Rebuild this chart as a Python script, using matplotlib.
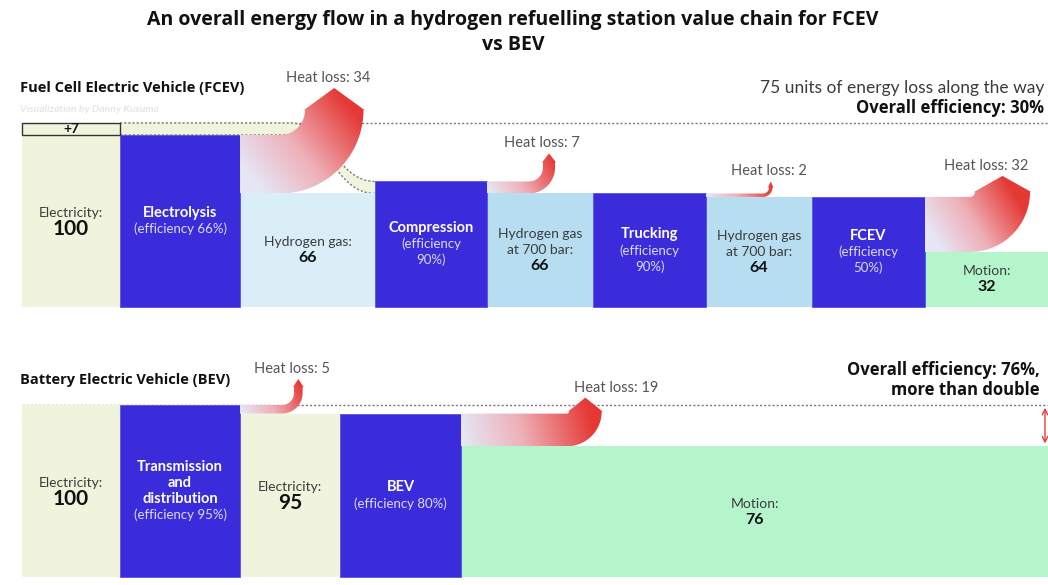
import numpy as np
import matplotlib.pyplot as plt
from matplotlib.path import Path
from matplotlib.patches import PathPatch, Rectangle
from matplotlib.colors import LinearSegmentedColormap

plt.rcParams["font.family"] = ["Lato", "DejaVu Sans"]
HEAD_FONT = ["Open Sans", "DejaVu Sans"]

# energy flow along the FCEV chain (units of energy, 100 = electricity in)
fcev_carriers = ["Electricity", "Hydrogen gas", "Hydrogen gas\nat 700 bar",
                 "Hydrogen gas\nat 700 bar", "Motion"]
fcev_energy = [100, 66, 66, 64, 32]
fcev_processes = ["Electrolysis", "Compression", "Trucking", "FCEV"]
fcev_efficiency = [66, 90, 90, 50]
fcev_input = [100, 73, 66, 64]
fcev_added = 7
fcev_heat_loss = [34, 7, 2, 32]
fcev_total_loss = 75
fcev_overall = 30

# energy flow along the BEV chain
bev_carriers = ["Electricity", "Electricity", "Motion"]
bev_energy = [100, 95, 76]
bev_processes = ["Transmission\nand\ndistribution", "BEV"]
bev_efficiency = [95, 80]
bev_input = [100, 95]
bev_heat_loss = [5, 19]
bev_overall = 76

# layout (pixels)
W, H = 1048, 585
K = 1.72  # pixels per energy unit
fcev_edges = [22, 120, 240, 375, 487, 593, 706, 812, 925, 1048]
bev_edges = [22, 120, 240, 340, 461, 1048]
# arrow shape per loss: horizontal run, inner radius, shaft length, head, label shift
fcev_arrows = [(40, 25, 0, 22, -6), (42, 14, 5, 9, -7), (57, 6, 0, 6, -2), (45, 5, 0, 16, -16)]
bev_arrows = [(42, 12, 6, 8, -6), (106, 2, 0, 14, 31)]

CARRIER_COLORS = {
    "Electricity": "#f1f4dd",
    "Hydrogen gas": "#d9eef7",
    "Hydrogen gas\nat 700 bar": "#b6def0",
    "Motion": "#b4f5cb",
}
PROCESS_COLOR = "#3a2cdb"
TEXT_GREY = "#3c3c3c"

heat_cmap = LinearSegmentedColormap.from_list(
    "heat", [(0, "#e6e6f5"), (0.45, "#eeb0b8"), (1, "#e53935")])

fig = plt.figure(figsize=(W / 100, H / 100), dpi=100)


def make_row_axes(base_px):
    ax = fig.add_axes([0, 0, 1, 1])
    ax.set_xlim(0, W)
    ax.set_ylim(-(H - base_px) / K, base_px / K)
    ax.axis("off")
    ax.patch.set_visible(False)
    return ax


def heat_arrow(ax, x0, v_in, loss, run, r_in, shaft, head):
    w = loss * K
    top = v_in * K
    cx, cy = x0 + run, top + r_in
    ro = r_in + w
    a = np.linspace(-np.pi / 2, 0, 40)
    inner = np.column_stack([cx + r_in * np.cos(a), cy + r_in * np.sin(a)])
    outer = np.column_stack([cx + ro * np.cos(a), cy + ro * np.sin(a)])[::-1]
    xl, xr = cx + r_in, cx + ro
    ys = cy + shaft
    pts = np.vstack([
        [[x0, top]], inner,
        [[xl, ys], [xl - 1, ys], [(xl + xr) / 2, ys + head], [xr + 1, ys], [xr, ys]],
        outer, [[x0, top - w]], [[x0, top]],
    ])
    verts = np.column_stack([pts[:, 0], pts[:, 1] / K])
    patch = PathPatch(Path(verts, closed=True), facecolor="none",
                      edgecolor="none", zorder=4)
    ax.add_patch(patch)

    # linear gradient from the block towards the arrow tip
    sx, sy = x0, top - w / 2
    ex, ey = (xl + xr) / 2, ys + head
    dx, dy = ex - sx, ey - sy
    xmin, xmax = pts[:, 0].min(), pts[:, 0].max()
    ymin, ymax = pts[:, 1].min(), pts[:, 1].max()
    gx, gy = np.meshgrid(np.linspace(xmin, xmax, 200), np.linspace(ymin, ymax, 200))
    t = np.clip(((gx - sx) * dx + (gy - sy) * dy) / (dx * dx + dy * dy), 0, 1)
    im = ax.imshow(t, extent=(xmin, xmax, ymin / K, ymax / K), origin="lower",
                   cmap=heat_cmap, vmin=0, vmax=1, aspect="auto", zorder=4)
    im.set_clip_path(patch)
    return (xl + xr) / 2, (ys + head) / K


def stacked_text(ax, x, v_mid, lines):
    # lines: list of (text, size, weight, color); centred on v_mid
    step = 16
    n = len(lines)
    for i, (s, size, weight, color) in enumerate(lines):
        off = ((n - 1) / 2 - i) * step
        ax.text(x, v_mid + off / K, s, ha="center", va="center",
                fontsize=size, fontweight=weight, color=color, zorder=6)


def draw_chain(ax, edges, carriers, energy, processes, efficiency, inputs,
               losses, arrows, dotted_level, dotted_from):
    ax.axhline(dotted_level, xmin=dotted_from / W, xmax=1, color="#777777",
               lw=1, ls=(0, (1.5, 1.5)), zorder=1)
    for i, name in enumerate(carriers):
        left, right = edges[2 * i], edges[2 * i + 1]
        val = energy[i]
        ax.bar(left, val, width=right - left, align="edge",
               color=CARRIER_COLORS[name], zorder=2)
        big = name == "Electricity"
        parts = name.split("\n")
        lines = [(s + (":" if j == len(parts) - 1 else ""), 10, "normal", TEXT_GREY)
                 for j, s in enumerate(parts)]
        lines.append((str(val), 15 if big else 11.5, "bold", "#111111"))
        stacked_text(ax, (left + right) / 2, val / 2, lines)
    for i, name in enumerate(processes):
        left, right = edges[2 * i + 1], edges[2 * i + 2]
        val = inputs[i]
        ax.bar(left, val, width=right - left, align="edge", color=PROCESS_COLOR,
               edgecolor="#5b50e6", lw=0.6, zorder=3)
        lines = [(s, 10.5, "bold", "white") for s in name.split("\n")]
        if right - left < 118:
            lines += [("(efficiency", 9.5, "normal", "#dedbfb"),
                      (f"{efficiency[i]}%)", 9.5, "normal", "#dedbfb")]
        else:
            lines.append((f"(efficiency {efficiency[i]}%)", 9.5, "normal", "#dedbfb"))
        stacked_text(ax, (left + right) / 2, val / 2, lines)
        run, r_in, shaft, head, label_dx = arrows[i]
        tip_x, tip_v = heat_arrow(ax, right, val, losses[i], run, r_in, shaft, head)
        ax.text(tip_x + label_dx, tip_v + 10 / K, f"Heat loss: {losses[i]}",
                ha="center", va="center", fontsize=10.5, color="#555555", zorder=6)


# ---- FCEV row ----
ax_f = make_row_axes(307)
draw_chain(ax_f, fcev_edges, fcev_carriers, fcev_energy, fcev_processes,
           fcev_efficiency, fcev_input, fcev_heat_loss, fcev_arrows,
           fcev_energy[0] + fcev_added, fcev_edges[1])

# extra electricity fed into compression
top_in, bot_in = fcev_energy[0] + fcev_added, fcev_energy[0]
top_out, bot_out = fcev_input[1], fcev_energy[1]
x_a, x_c = fcev_edges[1], fcev_edges[3]
top_edge = [(x_a, top_in), (290, top_in), (330, top_in), (335, top_out), (x_c, top_out)]
bot_edge = [(x_c, bot_out), (335, bot_out), (330, bot_in), (290, bot_in), (x_a, bot_in)]
band = Path(top_edge + bot_edge + [top_edge[0]],
            [Path.MOVETO, Path.LINETO, Path.CURVE4, Path.CURVE4, Path.CURVE4,
             Path.LINETO, Path.CURVE4, Path.CURVE4, Path.CURVE4, Path.LINETO,
             Path.CLOSEPOLY])
ax_f.add_patch(PathPatch(band, facecolor="#f1f4dd", edgecolor="none", zorder=1.5))
edge_codes = [
    [Path.MOVETO, Path.LINETO, Path.CURVE4, Path.CURVE4, Path.CURVE4],
    [Path.MOVETO, Path.CURVE4, Path.CURVE4, Path.CURVE4, Path.LINETO],
]
for edge, codes in zip((top_edge, bot_edge), edge_codes):
    ax_f.add_patch(PathPatch(Path(edge, codes), facecolor="none",
                             edgecolor="#777777", lw=1, ls=(0, (1.5, 1.5)),
                             zorder=1.6))
ax_f.add_patch(Rectangle((fcev_edges[0], fcev_energy[0]),
                         fcev_edges[1] - fcev_edges[0], fcev_added,
                         facecolor="#f1f4dd", edgecolor="#333333", lw=1, zorder=3))
ax_f.text((fcev_edges[0] + fcev_edges[1]) / 2, fcev_energy[0] + fcev_added / 2,
          f"+{fcev_added}", ha="center", va="center", fontsize=10,
          fontweight="bold", color="#111111", zorder=6)

# ---- BEV row ----
ax_b = make_row_axes(577)
draw_chain(ax_b, bev_edges, bev_carriers, bev_energy, bev_processes,
           bev_efficiency, bev_input, bev_heat_loss, bev_arrows,
           bev_energy[0], bev_edges[0])
ax_b.annotate("", xy=(1045, bev_energy[-1]), xytext=(1045, bev_energy[0]),
              arrowprops=dict(arrowstyle="<->", color="#e04040", lw=1),
              zorder=5)


# ---- headings ----
def ftext(x, y, s, **kw):
    fig.text(x / W, 1 - y / H, s, **kw)


ftext(513, 20, "An overall energy flow in a hydrogen refuelling station value chain for FCEV",
      ha="center", va="center", fontsize=14, fontweight="bold",
      family=HEAD_FONT, color="#111111")
ftext(513, 45, "vs BEV", ha="center", va="center", fontsize=14,
      fontweight="bold", family=HEAD_FONT, color="#111111")
ftext(20, 88, "Fuel Cell Electric Vehicle (FCEV)", ha="left", va="center",
      fontsize=10.5, fontweight="bold", family=HEAD_FONT, color="#111111")
ftext(20, 110, "Visualization by Danny Kusuma", ha="left", va="center",
      fontsize=7.5, style="italic", fontweight="bold", color="#e6e6e6")
ftext(1044, 88, f"{fcev_total_loss} units of energy loss along the way",
      ha="right", va="center", fontsize=12.5, color=TEXT_GREY)
ftext(1044, 108, f"Overall efficiency: {fcev_overall}%", ha="right",
      va="center", fontsize=12, fontweight="bold", family=HEAD_FONT,
      color="#111111")
ftext(20, 380, "Battery Electric Vehicle (BEV)", ha="left", va="center",
      fontsize=10.5, fontweight="bold", family=HEAD_FONT, color="#111111")
ftext(1040, 370, f"Overall efficiency: {bev_overall}%,", ha="right",
      va="center", fontsize=12, fontweight="bold", family=HEAD_FONT,
      color="#111111")
ftext(1040, 390, "more than double", ha="right", va="center",
      fontsize=12, fontweight="bold", family=HEAD_FONT, color="#111111")

fig.savefig("out.png", dpi=100)
